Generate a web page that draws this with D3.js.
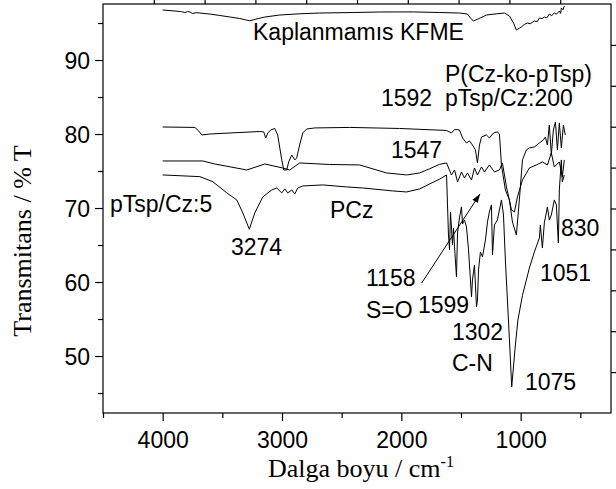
<!DOCTYPE html>
<html>
<head>
<meta charset="utf-8">
<script src="https://cdn.jsdelivr.net/npm/d3@7"></script>
<style>
  html, body { margin: 0; padding: 0; background: #fff; }
  svg { display: block; }
</style>
</head>
<body>
<svg id="chart" width="616" height="489"></svg>
<script>
// FTIR spectra: [wavenumber (cm-1), transmittance (%)]
const kfme = [[4000,96.76],[3897,96.62],[3850,96.55],[3814,96.42],[3790,96.55],[3772,96.49],[3747,96.29],[3720,96.40],[3688,96.35],[3600,96.20],[3521,96.02],[3430,95.80],[3354,95.61],[3300,95.40],[3270,95.31],[3200,95.60],[3144,95.81],[3019,96.08],[2850,96.25],[2684,96.35],[2400,96.42],[2182,96.49],[1900,96.50],[1680,96.42],[1513,96.35],[1446,96.22],[1421,95.68],[1396,95.27],[1350,95.60],[1287,96.08],[1200,96.25],[1136,96.35],[1094,95.95],[1060,95.00],[1036,94.06],[1010,94.30],[994,94.46],[970,94.80],[944,95.00],[920,94.90],[885,95.27],[860,95.20],[843,95.68],[820,95.60],[801,95.81],[780,95.70],[760,96.22],[740,96.00],[718,96.35],[700,96.20],[676,96.62],[665,96.30],[659,97.03],[645,96.80],[634,97.30]];

const coPoly200 = [[4000,80.95],[3730,80.89],[3697,80.40],[3672,79.87],[3605,80.00],[3437,80.14],[3186,80.34],[3153,80.28],[3136,79.47],[3119,80.14],[3094,80.55],[3061,80.75],[3036,79.87],[3002,76.50],[2985,75.14],[2960,75.14],[2944,76.23],[2918,77.17],[2893,76.50],[2877,76.77],[2852,78.52],[2826,80.14],[2793,80.68],[2726,80.82],[2433,80.89],[2015,80.75],[1621,80.48],[1580,80.14],[1554,80.61],[1513,80.55],[1487,79.47],[1454,78.79],[1429,79.06],[1404,78.52],[1379,77.85],[1362,76.09],[1345,78.52],[1328,79.60],[1287,79.87],[1262,79.47],[1228,80.14],[1195,80.28],[1178,80.01],[1161,75.82],[1128,72.44],[1094,71.09],[1069,68.12],[1036,66.36],[1011,71.09],[985,76.50],[952,77.85],[927,78.12],[885,78.25],[843,78.79],[810,79.20],[793,79.60],[776,78.52],[760,81.22],[743,77.17],[726,80.55],[709,81.60],[692,77.85],[676,81.50],[659,78.12],[642,81.22],[626,79.87]];

const coPoly5 = [[4000,76.36],[3663,76.36],[3563,75.95],[3295,75.14],[3144,75.95],[2994,75.41],[2935,75.14],[2852,76.09],[2600,75.88],[2349,75.82],[2124,74.74],[1956,74.47],[1847,74.74],[1763,75.30],[1680,75.90],[1621,76.09],[1580,74.47],[1554,75.14],[1529,73.52],[1496,74.87],[1471,74.06],[1446,74.74],[1412,73.79],[1387,75.41],[1362,74.47],[1328,75.55],[1303,74.87],[1262,75.82],[1220,74.87],[1178,75.14],[1153,76.09],[1119,72.85],[1077,69.74],[1052,69.47],[1027,71.50],[985,73.79],[927,75.41],[868,75.82],[818,76.23],[776,75.82],[743,77.44],[718,75.55],[676,76.23],[651,74.20],[634,76.50]];

const pcz = [[4000,74.47],[3688,74.24],[3580,73.56],[3462,72.04],[3379,71.09],[3328,69.33],[3274,67.13],[3228,69.33],[3161,71.50],[3086,72.44],[3044,72.71],[3002,72.04],[2977,72.58],[2952,72.04],[2918,72.44],[2893,71.90],[2868,72.71],[2826,72.98],[2659,73.12],[2458,72.85],[2324,72.71],[2073,72.31],[1956,72.17],[1847,72.58],[1763,73.25],[1680,73.90],[1621,74.47],[1613,70.42],[1605,66.36],[1596,64.34],[1588,69.47],[1571,65.01],[1563,67.31],[1554,64.74],[1538,60.69],[1529,66.63],[1513,68.66],[1496,70.15],[1487,67.85],[1471,68.39],[1454,67.44],[1437,64.34],[1429,62.31],[1412,57.99],[1404,60.28],[1387,62.31],[1370,56.64],[1362,57.58],[1353,61.63],[1337,64.07],[1320,63.39],[1295,65.69],[1278,68.12],[1262,69.47],[1245,70.42],[1236,63.66],[1220,67.71],[1195,68.39],[1178,69.74],[1161,71.09],[1144,69.06],[1128,62.98],[1111,57.58],[1094,52.18],[1075,45.83],[1048,50.83],[1023,54.88],[985,58.20],[952,60.28],[927,61.90],[885,64.07],[843,65.96],[835,67.70],[818,64.61],[801,68.10],[785,69.33],[776,70.15],[760,68.39],[743,69.06],[718,71.09],[701,70.42],[684,65.28],[676,72.44],[659,76.50],[651,73.52],[634,74.47]];

const xMajorTicks = [4000, 3000, 2000, 1000];
const xMinorTicks = [4500, 3500, 2500, 1500, 500];
const yMajorTicks = [50, 60, 70, 80, 90];
const yMinorTicks = [45, 55, 65, 75, 85, 95];

const svg = d3.select("#chart");
const plot = { left: 103, right: 611, top: 4, bottom: 413 };
const sansFont = "'Liberation Sans', Arial, Helvetica, sans-serif";
const serifFont = "'Liberation Serif', 'Times New Roman', serif";

const x = d3.scaleLinear().domain([4500, 243]).range([plot.left, plot.right]);
const y = d3.scaleLinear().domain([42.3, 97.57]).range([plot.bottom, plot.top]);

// secondary (mirror) axes on top/right, split into tenths
const xTop = d3.scaleLinear().domain([0, 1]).range([plot.left, plot.right]);
const yRight = d3.scaleLinear().domain([0, 1]).range([plot.top, plot.bottom]);

svg.append("defs").append("clipPath").attr("id", "plotClip")
  .append("rect")
  .attr("x", plot.left).attr("y", plot.top)
  .attr("width", plot.right - plot.left).attr("height", plot.bottom - plot.top);

// bottom axis
const gx = svg.append("g").attr("transform", `translate(0,${plot.bottom})`);
gx.call(d3.axisBottom(x).tickValues(xMajorTicks).tickSize(8).tickFormat(d3.format("d")));
gx.select(".domain").remove();
gx.selectAll("text").attr("y", 35).attr("dy", 0)
  .style("font-family", sansFont).style("font-size", "23px").attr("fill", "#000");
gx.selectAll(".tick line").attr("stroke", "#000").attr("stroke-width", 1.2);
const gxm = svg.append("g").attr("transform", `translate(0,${plot.bottom})`);
gxm.call(d3.axisBottom(x).tickValues(xMinorTicks).tickSize(5).tickFormat(""));
gxm.select(".domain").remove();
gxm.selectAll(".tick line").attr("stroke", "#000").attr("stroke-width", 1.2);

// left axis
const gy = svg.append("g").attr("transform", `translate(${plot.left},0)`);
gy.call(d3.axisLeft(y).tickValues(yMajorTicks).tickSize(8).tickFormat(d3.format("d")));
gy.select(".domain").remove();
gy.selectAll("text").attr("x", -13).attr("dy", "0.36em")
  .style("font-family", sansFont).style("font-size", "23px").attr("fill", "#000");
gy.selectAll(".tick line").attr("stroke", "#000").attr("stroke-width", 1.2);
const gym = svg.append("g").attr("transform", `translate(${plot.left},0)`);
gym.call(d3.axisLeft(y).tickValues(yMinorTicks).tickSize(5).tickFormat(""));
gym.select(".domain").remove();
gym.selectAll(".tick line").attr("stroke", "#000").attr("stroke-width", 1.2);

// top and right mirror axes
const tenths = d3.range(1, 10).map(i => i / 10);
const gt = svg.append("g").attr("transform", `translate(0,${plot.top})`);
gt.call(d3.axisTop(xTop).tickValues(tenths).tickSize(6).tickFormat(""));
gt.select(".domain").remove();
gt.selectAll(".tick line").attr("stroke", "#000").attr("stroke-width", 1.2);
const gr = svg.append("g").attr("transform", `translate(${plot.right},0)`);
gr.call(d3.axisRight(yRight).tickValues(tenths).tickSize(6).tickFormat(""));
gr.select(".domain").remove();
gr.selectAll(".tick line").attr("stroke", "#000").attr("stroke-width", 1.2);

// frame
svg.append("rect")
  .attr("x", plot.left).attr("y", plot.top)
  .attr("width", plot.right - plot.left).attr("height", plot.bottom - plot.top)
  .attr("fill", "none").attr("stroke", "#000").attr("stroke-width", 1.2);

// spectra
const line = d3.line().x(d => x(d[0])).y(d => y(d[1]));
const traces = svg.append("g").attr("clip-path", "url(#plotClip)");
[kfme, coPoly200, coPoly5, pcz].forEach(series => {
  traces.append("path")
    .datum(series)
    .attr("d", line)
    .attr("fill", "none")
    .attr("stroke", "#000")
    .attr("stroke-width", 1)
    .attr("stroke-linejoin", "round");
});

// annotations
const notes = [
  { text: "Kaplanmamıs KFME", px: 253, py: 40 },
  { text: "P(Cz-ko-pTsp)", px: 445, py: 82 },
  { text: "pTsp/Cz:200", px: 445, py: 106 },
  { text: "1592", px: 381, py: 106 },
  { text: "1547", px: 391, py: 158 },
  { text: "pTsp/Cz:5", px: 110, py: 212 },
  { text: "PCz", px: 330, py: 218 },
  { text: "3274", px: 231, py: 255 },
  { text: "830", px: 561, py: 236 },
  { text: "1051", px: 540, py: 281 },
  { text: "1158", px: 366, py: 286 },
  { text: "S=O", px: 366, py: 318 },
  { text: "1599", px: 418, py: 313 },
  { text: "1302", px: 452, py: 340 },
  { text: "C-N", px: 452, py: 371 },
  { text: "1075", px: 525, py: 390 }
];
svg.append("g").selectAll("text").data(notes).join("text")
  .attr("x", d => d.px).attr("y", d => d.py)
  .style("font-family", sansFont).style("font-size", "23px")
  .attr("fill", "#000")
  .text(d => d.text);

// arrow for the S=O band
svg.append("defs").append("marker")
  .attr("id", "arrowHead").attr("viewBox", "0 0 10 10")
  .attr("refX", 10).attr("refY", 5)
  .attr("markerWidth", 9).attr("markerHeight", 9)
  .attr("markerUnits", "userSpaceOnUse")
  .attr("orient", "auto")
  .append("path").attr("d", "M0,1.5 L10,5 L0,8.5 Z").attr("fill", "#000");
svg.append("line")
  .attr("x1", 421.7).attr("y1", 283).attr("x2", 480).attr("y2", 194)
  .attr("stroke", "#000").attr("stroke-width", 1)
  .attr("marker-end", "url(#arrowHead)");

// axis titles
const xTitle = svg.append("text")
  .attr("x", 268).attr("y", 477)
  .style("font-family", serifFont).style("font-size", "26px").attr("fill", "#000");
xTitle.append("tspan").text("Dalga boyu / cm");
xTitle.append("tspan").attr("dy", -10).style("font-size", "16px").text("-1");

svg.append("text")
  .attr("transform", "translate(31,241) rotate(-90)")
  .attr("text-anchor", "middle")
  .style("font-family", serifFont).style("font-size", "26px").attr("fill", "#000")
  .text("Transmitans / % T");
</script>
</body>
</html>
